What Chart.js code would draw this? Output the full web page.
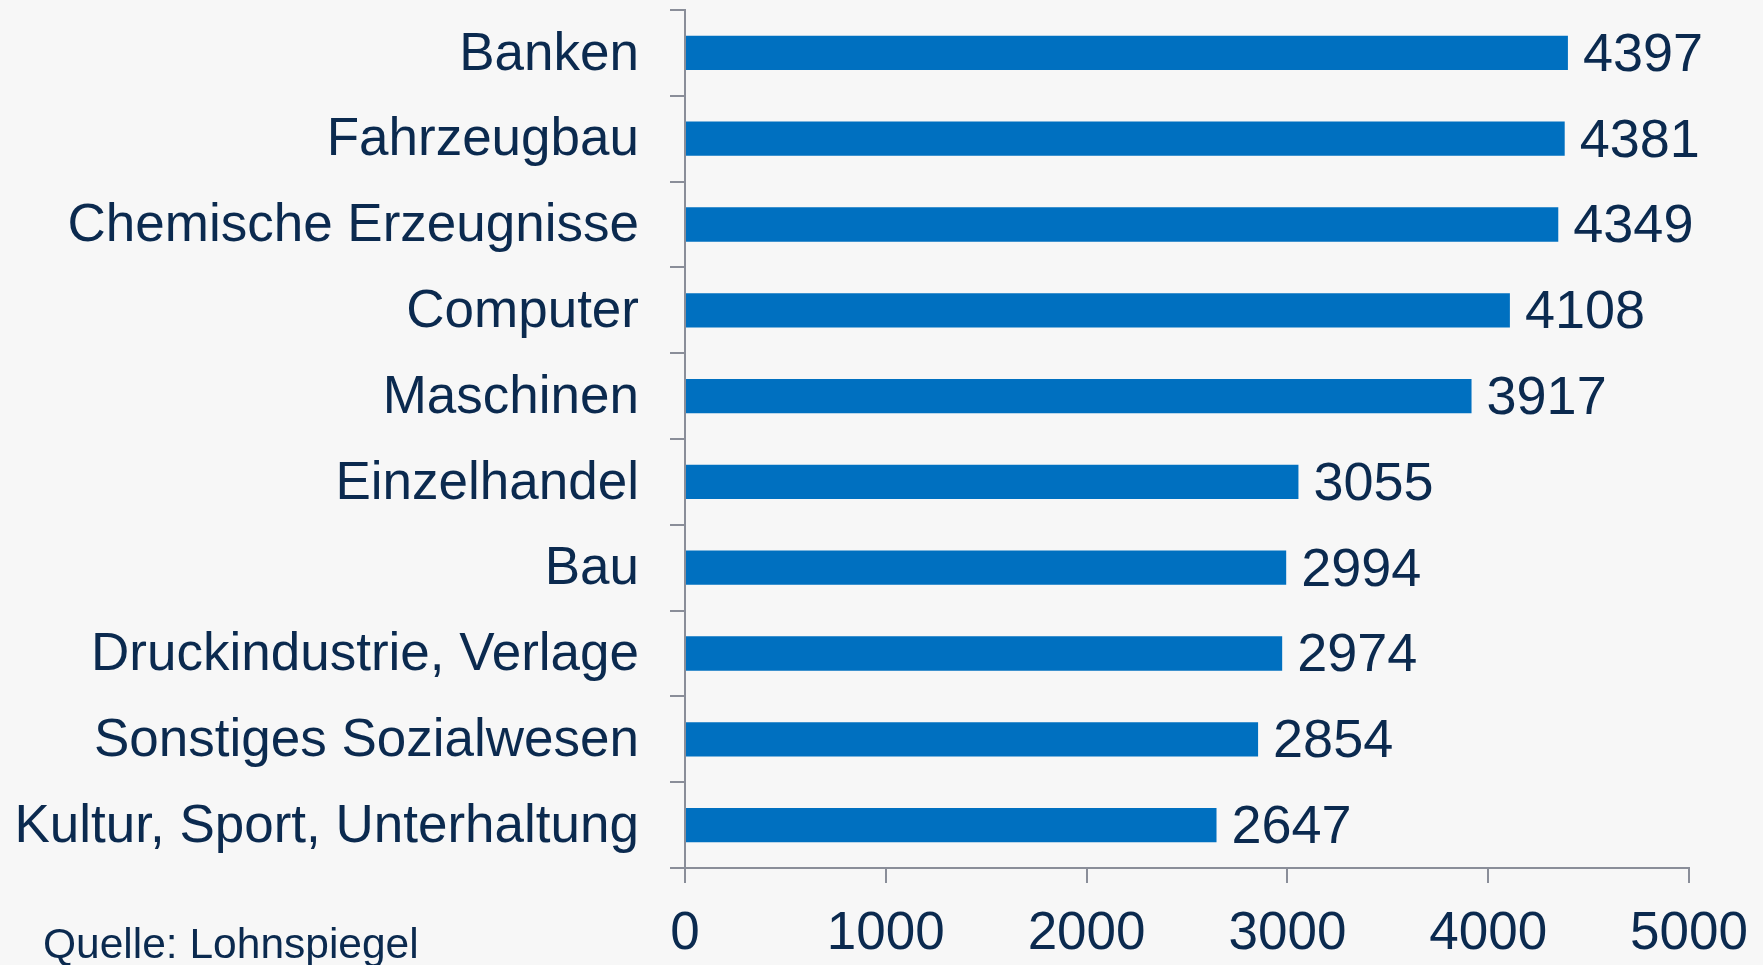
<!DOCTYPE html>
<html>
<head>
<meta charset="utf-8">
<script src="https://cdn.jsdelivr.net/npm/chart.js@4"></script>
<style>
    html, body { margin: 0; padding: 0; background: #f7f7f7; }
    #wrap { position: relative; width: 1763px; height: 965px; }
    #source {
        position: absolute; left: 43px; top: 920px;
        font-family: 'Liberation Sans', Arial, sans-serif; font-size: 42.5px; color: #0b2a4f;
    }
</style>
</head>
<body>
<div id="wrap">
    <canvas id="chart" width="1763" height="965"></canvas>
    <div id="source">Quelle: Lohnspiegel</div>
</div>
<script>
const categories = [
    'Banken',
    'Fahrzeugbau',
    'Chemische Erzeugnisse',
    'Computer',
    'Maschinen',
    'Einzelhandel',
    'Bau',
    'Druckindustrie, Verlage',
    'Sonstiges Sozialwesen',
    'Kultur, Sport, Unterhaltung'
];
const salaries = [4397, 4381, 4349, 4108, 3917, 3055, 2994, 2974, 2854, 2647];
const xTicks = [0, 1000, 2000, 3000, 4000, 5000];

const textColor = '#0b2a4f';
const axisColor = '#8a8e99';
const font = 'Liberation Sans';

// value labels right of each bar
const valueLabels = {
    id: 'valueLabels',
    afterDatasetsDraw(chart) {
        const { ctx } = chart;
        const meta = chart.getDatasetMeta(0);
        ctx.save();
        ctx.font = '54px ' + font;
        ctx.fillStyle = textColor;
        ctx.textAlign = 'left';
        ctx.textBaseline = 'middle';
        meta.data.forEach((bar, i) => {
            ctx.fillText(String(salaries[i]), bar.x + 15, bar.y + 3);
        });
        ctx.restore();
    }
};

new Chart(document.getElementById('chart').getContext('2d'), {
    type: 'bar',
    data: {
        labels: categories,
        datasets: [{
            data: salaries,
            backgroundColor: '#0070c0',
            categoryPercentage: 1,
            barPercentage: 0.4
        }]
    },
    options: {
        indexAxis: 'y',
        responsive: false,
        animation: false,
        devicePixelRatio: 1,
        layout: { padding: { top: 10, right: 74, left: 0, bottom: 0 } },
        plugins: { legend: { display: false }, tooltip: { enabled: false } },
        scales: {
            x: {
                min: 0,
                max: 5000,
                afterBuildTicks: scale => { scale.ticks = xTicks.map(v => ({ value: v })); },
                afterFit: scale => {
                    scale.height = 97;
                    scale.paddingLeft = 0;
                    scale.paddingRight = 0;
                },
                grid: { drawOnChartArea: false, drawTicks: true, tickLength: 15, color: axisColor, lineWidth: 2 },
                border: { color: axisColor, width: 2 },
                ticks: {
                    color: textColor,
                    font: { family: font, size: 53 },
                    padding: 20,
                    maxRotation: 0,
                    callback: value => String(value)
                }
            },
            y: {
                afterFit: scale => {
                    scale.width = 685;
                    scale.paddingTop = 0;
                    scale.paddingBottom = 0;
                },
                grid: { drawOnChartArea: false, drawTicks: true, tickLength: 15, color: axisColor, lineWidth: 2 },
                border: { color: axisColor, width: 2 },
                ticks: { color: textColor, font: { family: font, size: 53 }, padding: 31, labelOffset: 2, autoSkip: false }
            }
        }
    },
    plugins: [valueLabels]
});
</script>
</body>
</html>
